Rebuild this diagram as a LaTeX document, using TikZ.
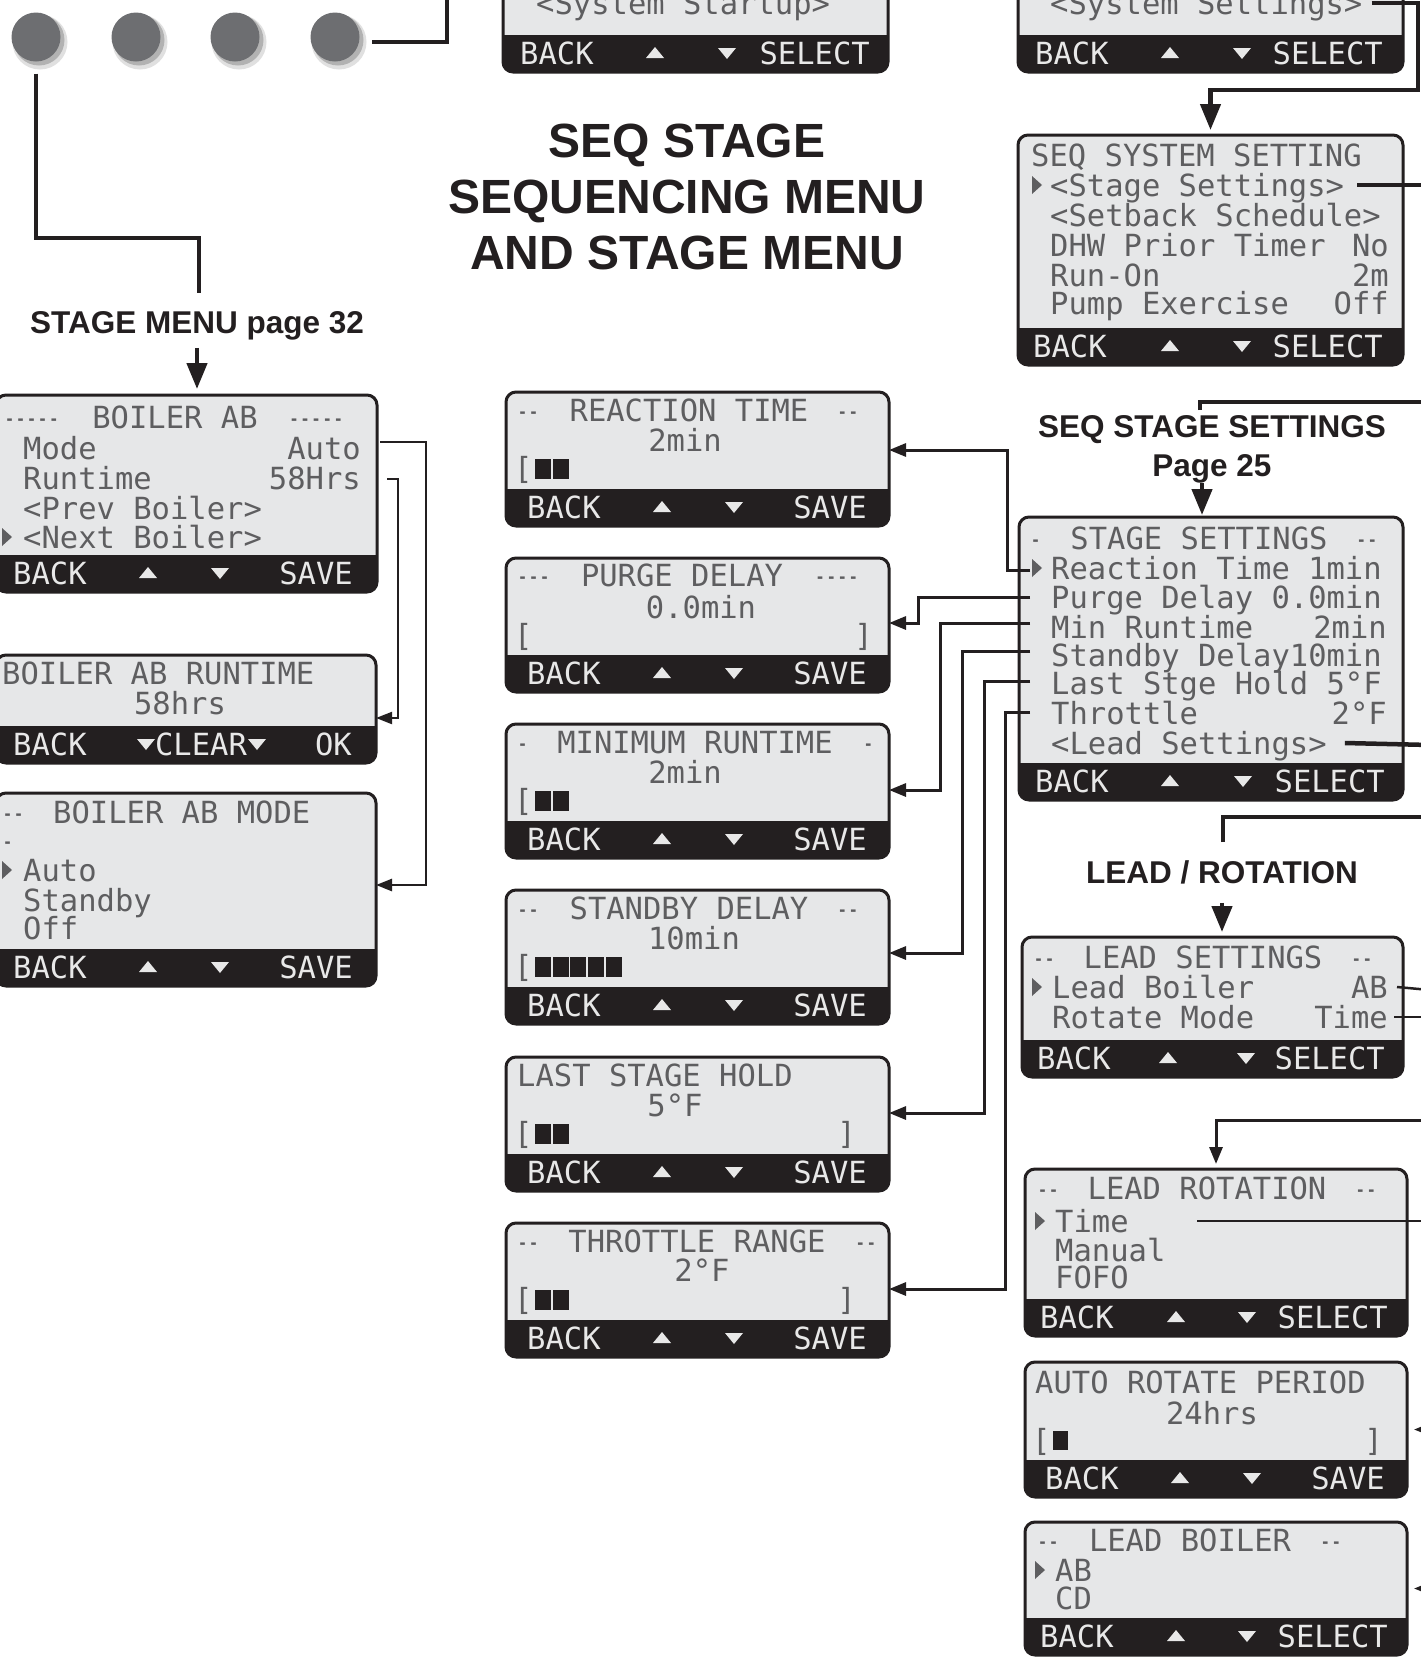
\documentclass[tikz,border=0pt]{standalone}
\usepackage{fontspec}
\usepackage{graphicx}
\setmainfont{Liberation Sans}
\newfontfamily\lcdff{DejaVu Sans Mono}
\newcommand\lcdfont{\lcdff\fontsize{30.5}{31}\selectfont}
\usetikzlibrary{arrows.meta,calc}
\definecolor{ink}{HTML}{231F20}
\definecolor{lcdbg}{HTML}{E6E7E8}
\definecolor{lcdtext}{HTML}{5E5E60}
\definecolor{bartext}{HTML}{E8E8E8}
\definecolor{btncol}{HTML}{6D6E71}
\newcommand\lcddash[1]{\scalebox{0.6}[1]{\ifcase#1\relax\or-\or-\kern0pt-\or-\kern0pt-\kern0pt-\or-\kern0pt-\kern0pt-\kern0pt-\or-\kern0pt-\kern0pt-\kern0pt-\kern0pt-\fi}}
\newcommand\lcdptr[2]{\fill[lcdtext] (#1-5,#2-9) -- (#1+5,#2) -- (#1-5,#2+9) -- cycle;}
\newcommand\lcdblk[2]{\fill[ink] (#1,#2) rectangle ++(16,20);}
\newcommand\uptri[2]{\fill[bartext] (#1-9,#2+5) -- (#1+9,#2+5) -- (#1,#2-6) -- cycle;}
\newcommand\dntri[2]{\fill[bartext] (#1-9,#2-5) -- (#1+9,#2-5) -- (#1,#2+6) -- cycle;}
\newcommand\lcdbar[6]{%
  \begin{scope}[shift={(#1.south west)}]
    \node[bt, anchor=west] (#1-bk) at (#2,-19) {BACK};
    \uptri{#3}{-19}
    \dntri{#4}{-19}
    \node[bt, anchor=east] (#1-ok) at (#6,-19) {#5};
  \end{scope}}
\begin{document}
\begin{tikzpicture}[x=1pt,y=-1pt,
  screenbox/.style={draw=ink, line width=3pt, fill=lcdbg, rounded corners=10pt, anchor=north west, inner sep=0pt, outer sep=0pt,
    path picture={\fill[ink, sharp corners] (path picture bounding box.south west) rectangle ([yshift=37pt]path picture bounding box.south east);}},
  lcd/.style={font=\lcdfont, text=lcdtext, inner sep=0pt, text height=22pt, text depth=0pt},
  lw/.style={lcd, anchor=west}, le/.style={lcd, anchor=east}, lc/.style={lcd, anchor=center},
  bt/.style={lcd, text=bartext},
  ttl/.style={font=\bfseries\fontsize{48}{50}\selectfont, text=ink, anchor=base, inner sep=0pt},
  lbl/.style={font=\bfseries\fontsize{31.5}{34}\selectfont, text=ink, anchor=base, inner sep=0pt},
  thk/.style={draw=ink, line width=4.5pt},
  thkarr/.style={thk, -{Triangle[length=26pt,width=20pt]}},
  medarr/.style={draw=ink, line width=3pt, -{Triangle[length=17pt,width=13pt]}},
  thn/.style={draw=ink, line width=2.5pt},
  thnarr/.style={thn, -{Triangle[length=16pt,width=12pt]}},
  btn/.style={circle, fill=btncol, minimum size=49pt, inner sep=0pt}]
\fill[white] (0,0) rectangle (1421,1660);
\useasboundingbox (0,0) rectangle (1421,1660);
\clip (0,0) rectangle (1421,1660);

% ---- buttons
\foreach \i/\x in {1/36,2/136,3/235,4/335}{
  \fill[black!12] (\x+4,42) circle (27.5);
  \fill[black!30] (\x+3,40) circle (25.5);
  \node[btn] (btn\i) at (\x,37) {};
}

% ---- titles
\node[ttl] (t1) at (687,157) {SEQ STAGE};
\node[ttl] (t2) at (687,213) {SEQUENCING MENU};
\node[ttl] (t3) at (687,269) {AND STAGE MENU};
\node[lbl] (smlbl) at (197,333) {STAGE MENU page 32};
\node[lbl] (sstl) at (1212,437) {SEQ STAGE SETTINGS};
\node[lbl] (p25) at (1212,476) {Page 25};
\node[lbl] (lrlbl) at (1222,883) {LEAD / ROTATION};

% ---- top middle (partial)
\node[screenbox, minimum width=385pt, minimum height=172pt] (tm) at (503,-100) {};
\node[lw] (tm1) at (536,3) {<System Startup>};
\lcdbar{tm}{17}{152}{224}{SELECT}{367}

% ---- top right (partial)
\node[screenbox, minimum width=385pt, minimum height=172pt] (trs) at (1018,-100) {};
\node[lw] (sysset) at (1050,3) {<System Settings>};
\lcdbar{trs}{17}{152}{224}{SELECT}{365}

% ---- SEQ SYSTEM SETTING
\node[screenbox, minimum width=385pt, minimum height=230pt] (sss) at (1018,135) {};
\node[lw] (sss1) at (1031,155) {SEQ SYSTEM SETTING};
\lcdptr{1037}{185}
\node[lw] (sss2) at (1050,185) {<Stage Settings>};
\node[lw] (sss3) at (1050,215) {<Setback Schedule>};
\node[lw] (sss4) at (1050,245) {DHW Prior Timer};
\node[le] (sss4v) at (1389,245) {No};
\node[lw] (sss5) at (1050,275) {Run-On};
\node[le] (sss5v) at (1389,275) {2m};
\node[lw] (sss6) at (1050,303) {Pump Exercise};
\node[le] (sss6v) at (1389,303) {Off};
\lcdbar{sss}{15}{152}{224}{SELECT}{365}

% ---- STAGE SETTINGS
\node[screenbox, minimum width=384pt, minimum height=283pt] (ss) at (1019,517) {};
\node[lw] (ss0a) at (1030,538) {\lcddash1};
\node[lc] (ss0b) at (1199,538) {STAGE SETTINGS};
\node[le] (ss0c) at (1378,538) {\lcddash2};
\lcdptr{1037}{568}
\node[lw] (ss1) at (1051,568) {Reaction Time 1min};
\node[lw] (ss2) at (1051,597) {Purge Delay 0.0min};
\node[lw] (ss3) at (1051,627) {Min Runtime};
\node[le] (ss3v) at (1387,627) {2min};
\node[lw] (ss4) at (1051,655) {Standby Delay10min};
\node[lw] (ss5) at (1051,683) {Last Stge Hold 5°F};
\node[lw] (ss6) at (1051,713) {Throttle};
\node[le] (ss6v) at (1387,713) {2°F};
\node[lw] (ss7) at (1051,743) {<Lead Settings>};
\lcdbar{ss}{16}{151}{224}{SELECT}{366}

% ---- middle column
\node[screenbox, minimum width=383pt, minimum height=134pt] (rt) at (506,392) {};
\node[lw] (rt0a) at (517,410) {\lcddash2};
\node[lc] (rt0b) at (689,410) {REACTION TIME};
\node[le] (rt0c) at (859,410) {\lcddash2};
\node[lc] (rt1) at (685,440) {2min};
\node[lw] (rt2) at (514,468) {[};
\lcdblk{535}{459}\lcdblk{553}{459}
\lcdbar{rt}{21}{156}{228}{SAVE}{361}

\node[screenbox, minimum width=383pt, minimum height=134pt] (pd) at (506,558) {};
\node[lw] (pd0a) at (517,575) {\lcddash3};
\node[lc] (pd0b) at (682,575) {PURGE DELAY};
\node[le] (pd0c) at (859,575) {\lcddash4};
\node[lc] (pd1) at (701,607) {0.0min};
\node[lw] (pd2) at (514,635) {[};
\node[le] (pd3) at (873,635) {]};
\lcdbar{pd}{21}{156}{228}{SAVE}{361}

\node[screenbox, minimum width=383pt, minimum height=134pt] (mr) at (506,724) {};
\node[lw] (mr0a) at (517,742) {\lcddash1};
\node[lc] (mr0b) at (695,742) {MINIMUM RUNTIME};
\node[le] (mr0c) at (874,742) {\lcddash1};
\node[lc] (mr1) at (685,772) {2min};
\node[lw] (mr2) at (514,800) {[};
\lcdblk{535}{791}\lcdblk{553}{791}
\lcdbar{mr}{21}{156}{228}{SAVE}{361}

\node[screenbox, minimum width=383pt, minimum height=134pt] (sd) at (506,890) {};
\node[lw] (sd0a) at (517,908) {\lcddash2};
\node[lc] (sd0b) at (689,908) {STANDBY DELAY};
\node[le] (sd0c) at (859,908) {\lcddash2};
\node[lc] (sd1) at (694,938) {10min};
\node[lw] (sd2) at (514,966) {[};
\foreach \k in {0,...,4}{\lcdblk{535+17.7*\k}{957}}
\lcdbar{sd}{21}{156}{228}{SAVE}{361}

\node[screenbox, minimum width=383pt, minimum height=134pt] (lsh) at (506,1057) {};
\node[lw] (lsh0) at (517,1075) {LAST STAGE HOLD};
\node[lc] (lsh1) at (675,1105) {5°F};
\node[lw] (lsh2) at (514,1133) {[};
\node[le] (lsh3) at (856,1133) {]};
\lcdblk{535}{1124}\lcdblk{553}{1124}
\lcdbar{lsh}{21}{156}{228}{SAVE}{361}

\node[screenbox, minimum width=383pt, minimum height=134pt] (thr) at (506,1223) {};
\node[lw] (thr0a) at (517,1241) {\lcddash2};
\node[lc] (thr0b) at (697,1241) {THROTTLE RANGE};
\node[le] (thr0c) at (877,1241) {\lcddash2};
\node[lc] (thr1) at (702,1270) {2°F};
\node[lw] (thr2) at (514,1299) {[};
\node[le] (thr3) at (856,1299) {]};
\lcdblk{535}{1290}\lcdblk{553}{1290}
\lcdbar{thr}{21}{156}{228}{SAVE}{361}

% ---- left column
\node[screenbox, minimum width=381pt, minimum height=197pt] (ba) at (-4,395) {};
\node[lw] (ba0a) at (4,417) {\lcddash5};
\node[lc] (ba0b) at (175,417) {BOILER AB};
\node[le] (ba0c) at (344,417) {\lcddash5};
\node[lw] (ba1) at (23,448) {Mode};
\node[le] (ba1v) at (361,448) {Auto};
\node[lw] (ba2) at (23,478) {Runtime};
\node[le] (ba2v) at (361,478) {58Hrs};
\node[lw] (ba3) at (23,508) {<Prev Boiler>};
\lcdptr{7}{537}
\node[lw] (ba4) at (23,537) {<Next Boiler>};
\lcdbar{ba}{17}{152}{224}{SAVE}{357}

\node[screenbox, minimum width=380pt, minimum height=108pt] (br) at (-4,655) {};
\node[lw] (br0) at (2,673) {BOILER AB RUNTIME};
\node[lc] (br1) at (180,703) {58hrs};
\node[bt, anchor=west] (br-bk) at (13,744) {BACK};
\dntri{146}{744}
\node[bt, anchor=center] (br-cl) at (201,744) {CLEAR};
\dntri{257}{744}
\node[bt, anchor=east] (br-ok) at (352,744) {OK};

\node[screenbox, minimum width=380pt, minimum height=193pt] (bm) at (-4,793) {};
\node[lw] (bm0a) at (2,812) {\lcddash2};
\node[lw] (bm0b) at (53,812) {BOILER AB MODE};
\node[lw] (bm0c) at (2,840) {\lcddash1};
\lcdptr{7}{870}
\node[lw] (bm1) at (23,870) {Auto};
\node[lw] (bm2) at (23,900) {Standby};
\node[lw] (bm3) at (23,928) {Off};
\lcdbar{bm}{17}{152}{224}{SAVE}{357}

% ---- right lower column
\node[screenbox, minimum width=381pt, minimum height=140pt] (lset) at (1022,937) {};
\node[lw] (ls0a) at (1033,957) {\lcddash2};
\node[lc] (ls0b) at (1203,957) {LEAD SETTINGS};
\node[le] (ls0c) at (1373,957) {\lcddash2};
\lcdptr{1037}{987}
\node[lw] (ls1) at (1052,987) {Lead Boiler};
\node[le] (ls1v) at (1388,987) {AB};
\node[lw] (ls2) at (1052,1017) {Rotate Mode};
\node[le] (ls2v) at (1388,1017) {Time};
\lcdbar{lset}{15}{146}{224}{SELECT}{363}

\node[screenbox, minimum width=382pt, minimum height=167pt] (lrot) at (1025,1169) {};
\node[lw] (lr0a) at (1037,1188) {\lcddash2};
\node[lc] (lr0b) at (1207,1188) {LEAD ROTATION};
\node[le] (lr0c) at (1377,1188) {\lcddash2};
\lcdptr{1040}{1221}
\node[lw] (lr1) at (1055,1221) {Time};
\node[lw] (lr2) at (1055,1250) {Manual};
\node[lw] (lr3) at (1055,1277) {FOFO};
\lcdbar{lrot}{15}{151}{222}{SELECT}{363}

\node[screenbox, minimum width=382pt, minimum height=135pt] (arp) at (1025,1362) {};
\node[lw] (ar0) at (1035,1382) {AUTO ROTATE PERIOD};
\node[lc] (ar1) at (1212,1413) {24hrs};
\node[lw] (ar2) at (1032,1440) {[};
\node[le] (ar3) at (1383,1440) {]};
\fill[ink] (1053,1431) rectangle (1068,1450);
\lcdbar{arp}{20}{155}{227}{SAVE}{360}

\node[screenbox, minimum width=382pt, minimum height=133pt] (lb) at (1025,1522) {};
\node[lw] (lb0a) at (1037,1540) {\lcddash2};
\node[lc] (lb0b) at (1190,1540) {LEAD BOILER};
\node[le] (lb0c) at (1342,1540) {\lcddash2};
\lcdptr{1040}{1570}
\node[lw] (lb1) at (1055,1570) {AB};
\node[lw] (lb2) at (1055,1598) {CD};
\lcdbar{lb}{15}{151}{222}{SELECT}{363}

% ---- connectors
\coordinate (c4o) at (372,42); \coordinate (c4t) at (447,-10);
\draw[thk] (c4o) -| (c4t);
\coordinate (k1) at (199,238); \coordinate (k2) at (199,293);
\draw[thk] ([yshift=-12pt]btn1.south) |- (k1) -- (k2);
\draw[thkarr, shorten <=8pt, shorten >=6pt] (smlbl.south) -- (smlbl.south |- ba.north);

\coordinate (k3) at (1418,90);
\draw[thkarr, shorten >=5pt] ([xshift=9pt]sysset.east) -| (k3) -| (sss.north);
\coordinate (k4) at (1430,185);
\draw[thk] ([xshift=13pt]sss2.east) -- (k4);
\coordinate (k5) at (1200,410); \coordinate (k6) at (1430,402);
\draw[thk] (k5) |- (k6);
\draw[thkarr, shorten >=2pt] ([xshift=-10pt]p25.south) -- ([xshift=-10pt]p25.south |- ss.north);
\coordinate (k7) at (1430,745);
\draw[thk] ([xshift=18pt]ss7.east) -- (k7);
\coordinate (k8) at (1223,842); \coordinate (k9) at (1430,817);
\draw[thk] (k8) |- (k9);
\draw[thkarr, shorten <=19pt, shorten >=5pt] (lrlbl.south) -- (lrlbl.south |- lset.north);

% stage settings -> parameter screens
\coordinate (s1) at (1030,570); \coordinate (s1k) at (1007,450);
\draw[medarr] (s1) -| (s1k) -- ($(rt.north east)+(0,58)$);
\coordinate (s2) at (1030,597); \coordinate (s2k) at (918,623);
\draw[medarr] (s2) -| (s2k) -- ($(pd.north east)+(0,65)$);
\coordinate (s3) at (1030,623); \coordinate (s3k) at (940,790);
\draw[medarr] (s3) -| (s3k) -- ($(mr.north east)+(0,66)$);
\coordinate (s4) at (1030,651); \coordinate (s4k) at (962,953);
\draw[medarr] (s4) -| (s4k) -- ($(sd.north east)+(0,63)$);
\coordinate (s5) at (1030,681); \coordinate (s5k) at (984,1113);
\draw[medarr] (s5) -| (s5k) -- ($(lsh.north east)+(0,56)$);
\coordinate (s6) at (1030,712); \coordinate (s6k) at (1005,1289);
\draw[medarr] (s6) -| (s6k) -- ($(thr.north east)+(0,66)$);

% boiler AB -> sub screens
\coordinate (b1) at (380,442); \coordinate (b1k) at (426,885);
\draw[thnarr] (b1) -| (b1k) -- ($(bm.north east)+(0,92)$);
\coordinate (b2) at (387,479); \coordinate (b2k) at (398,718);
\draw[thnarr, line width=2pt] (b2) -| (b2k) -- ($(br.north east)+(0,63)$);

% lead settings / rotation
\coordinate (l1) at (1430,990); \coordinate (l2) at (1430,1017);
\draw[thn] ([xshift=9pt]ls1v.east) -- (l1);
\draw[thn] ([xshift=6pt]ls2v.east) -- (l2);
\coordinate (k10) at (1430,1120);
\draw[medarr, shorten >=5pt] (k10) -| (lrot.north);
\coordinate (l3) at (1197,1221); \coordinate (l4) at (1430,1221);
\draw[thn] (l3) -- (l4);
\coordinate (k11) at (1445,1429.5); \coordinate (k12) at (1445,1588.5);
\draw[thnarr, shorten >=7pt] (k11) -- (arp.east);
\draw[thnarr, shorten >=7pt] (k12) -- (lb.east);
\end{tikzpicture}
\end{document}
